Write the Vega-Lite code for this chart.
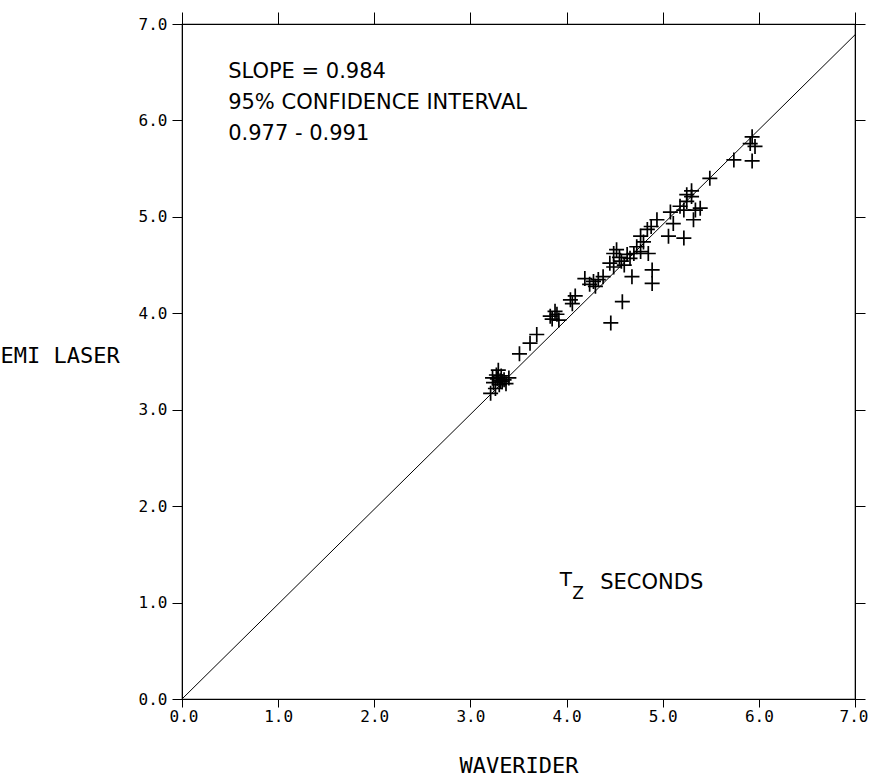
{
  "$schema": "https://vega.github.io/schema/vega-lite/v6.json",
  "width": 673,
  "height": 675,
  "autosize": {"type": "none"},
  "padding": {"left": 182, "top": 24, "right": 14, "bottom": 78},
  "background": "white",
  "config": {
    "view": {"stroke": "black", "strokeWidth": 1.2},
    "axis": {"domainColor": "black", "tickColor": "black", "labelColor": "black", "titleColor": "black", "grid": false}
  },
  "datasets": {
    "pts": [
      {"waverider": 3.21, "emi": 3.17}, {"waverider": 3.24, "emi": 3.28}, {"waverider": 3.26, "emi": 3.22},
      {"waverider": 3.28, "emi": 3.32}, {"waverider": 3.29, "emi": 3.41}, {"waverider": 3.30, "emi": 3.26},
      {"waverider": 3.32, "emi": 3.35}, {"waverider": 3.33, "emi": 3.29}, {"waverider": 3.35, "emi": 3.31},
      {"waverider": 3.37, "emi": 3.27}, {"waverider": 3.40, "emi": 3.33}, {"waverider": 3.27, "emi": 3.36},
      {"waverider": 3.31, "emi": 3.30}, {"waverider": 3.23, "emi": 3.33},
      {"waverider": 3.51, "emi": 3.58}, {"waverider": 3.62, "emi": 3.69}, {"waverider": 3.69, "emi": 3.78},
      {"waverider": 3.83, "emi": 3.97}, {"waverider": 3.88, "emi": 4.02}, {"waverider": 3.92, "emi": 3.93},
      {"waverider": 3.85, "emi": 3.94}, {"waverider": 3.90, "emi": 3.99},
      {"waverider": 4.04, "emi": 4.14}, {"waverider": 4.09, "emi": 4.18}, {"waverider": 4.06, "emi": 4.10},
      {"waverider": 4.19, "emi": 4.36}, {"waverider": 4.24, "emi": 4.30}, {"waverider": 4.28, "emi": 4.33},
      {"waverider": 4.33, "emi": 4.35}, {"waverider": 4.38, "emi": 4.38}, {"waverider": 4.30, "emi": 4.28},
      {"waverider": 4.58, "emi": 4.12}, {"waverider": 4.46, "emi": 3.90},
      {"waverider": 4.49, "emi": 4.62}, {"waverider": 4.45, "emi": 4.52}, {"waverider": 4.52, "emi": 4.66},
      {"waverider": 4.63, "emi": 4.61}, {"waverider": 4.70, "emi": 4.62}, {"waverider": 4.77, "emi": 4.64},
      {"waverider": 4.85, "emi": 4.62}, {"waverider": 4.49, "emi": 4.48}, {"waverider": 4.57, "emi": 4.54},
      {"waverider": 4.66, "emi": 4.57}, {"waverider": 4.73, "emi": 4.69}, {"waverider": 4.55, "emi": 4.58},
      {"waverider": 4.60, "emi": 4.50}, {"waverider": 4.68, "emi": 4.38}, {"waverider": 4.89, "emi": 4.45},
      {"waverider": 4.89, "emi": 4.31},
      {"waverider": 4.77, "emi": 4.80}, {"waverider": 4.84, "emi": 4.87}, {"waverider": 4.94, "emi": 4.97},
      {"waverider": 4.80, "emi": 4.74}, {"waverider": 4.88, "emi": 4.90},
      {"waverider": 5.06, "emi": 4.80}, {"waverider": 5.22, "emi": 4.78},
      {"waverider": 5.11, "emi": 4.93}, {"waverider": 5.08, "emi": 5.05}, {"waverider": 5.18, "emi": 5.11},
      {"waverider": 5.25, "emi": 5.16}, {"waverider": 5.30, "emi": 5.21}, {"waverider": 5.25, "emi": 5.23},
      {"waverider": 5.39, "emi": 5.09}, {"waverider": 5.32, "emi": 4.97}, {"waverider": 5.34, "emi": 5.07},
      {"waverider": 5.22, "emi": 5.07}, {"waverider": 5.30, "emi": 5.27},
      {"waverider": 5.49, "emi": 5.40}, {"waverider": 5.74, "emi": 5.59}, {"waverider": 5.93, "emi": 5.58},
      {"waverider": 5.91, "emi": 5.76}, {"waverider": 5.96, "emi": 5.73}, {"waverider": 5.93, "emi": 5.83}
    ],
    "fit": [{"waverider": 0, "emi": 0}, {"waverider": 7, "emi": 6.888}],
    "notes": [
      {"waverider": 0.48, "emi": 6.50, "label": "SLOPE = 0.984"},
      {"waverider": 0.48, "emi": 6.18, "label": "95% CONFIDENCE INTERVAL"},
      {"waverider": 0.48, "emi": 5.86, "label": "0.977 - 0.991"},
      {"waverider": 4.35, "emi": 1.20, "label": "SECONDS"}
    ],
    "tz": [{"waverider": 3.93, "emi": 1.23, "label": "T"}],
    "sub": [{"waverider": 4.06, "emi": 1.09, "label": "Z"}]
  },
  "resolve": {"axis": {"x": "independent", "y": "independent"}},
  "layer": [
    {
      "data": {"name": "fit"},
      "mark": {"type": "line", "color": "black", "strokeWidth": 1, "clip": true},
      "encoding": {
        "x": {"field": "waverider", "type": "quantitative",
          "scale": {"domain": [0, 7], "nice": false, "zero": false},
          "axis": {"orient": "bottom", "values": [0, 1, 2, 3, 4, 5, 6, 7], "format": ".1f",
            "tickSize": 8, "labelPadding": 1, "labelFont": "DejaVu Sans Mono", "labelFontSize": 16,
            "labelFlush": true, "labelFlushOffset": 13,
            "title": "WAVERIDER", "titleFont": "DejaVu Sans Mono", "titleFontSize": 22, "titleFontWeight": "normal",
            "titleBaseline": "middle", "titleY": 66}},
        "y": {"field": "emi", "type": "quantitative",
          "scale": {"domain": [0, 7], "nice": false, "zero": false},
          "axis": {"orient": "left", "values": [0, 1, 2, 3, 4, 5, 6, 7], "format": ".1f",
            "tickSize": 10, "labelPadding": 5, "labelFont": "DejaVu Sans Mono", "labelFontSize": 16,
            "title": "EMI LASER", "titleFont": "DejaVu Sans Mono", "titleFontSize": 22, "titleFontWeight": "normal",
            "titleAngle": 0, "titleAlign": "left", "titleBaseline": "middle", "titleX": -182, "titleY": 331, "labelFlush": false}}
      }
    },
    {
      "data": {"name": "pts"},
      "mark": {"type": "point", "shape": "M-1,0L1,0M0,-1L0,1", "filled": false, "stroke": "black", "strokeWidth": 1.7, "size": 225, "opacity": 1},
      "encoding": {
        "x": {"field": "waverider", "type": "quantitative",
          "axis": {"orient": "top", "values": [0, 1, 2, 3, 4, 5, 6, 7], "labels": false, "tickSize": 12, "title": null}},
        "y": {"field": "emi", "type": "quantitative",
          "axis": {"orient": "right", "values": [0, 1, 2, 3, 4, 5, 6, 7], "labels": false, "tickSize": 10, "title": null}}
      }
    },
    {
      "data": {"name": "notes"},
      "mark": {"type": "text", "align": "left", "baseline": "middle", "font": "DejaVu Sans", "fontSize": 21, "color": "black"},
      "encoding": {
        "x": {"field": "waverider", "type": "quantitative", "axis": null},
        "y": {"field": "emi", "type": "quantitative", "axis": null},
        "text": {"field": "label"}
      }
    },
    {
      "data": {"name": "tz"},
      "mark": {"type": "text", "align": "left", "baseline": "middle", "font": "DejaVu Sans", "fontSize": 20, "color": "black"},
      "encoding": {
        "x": {"field": "waverider", "type": "quantitative", "axis": null},
        "y": {"field": "emi", "type": "quantitative", "axis": null},
        "text": {"field": "label"}
      }
    },
    {
      "data": {"name": "sub"},
      "mark": {"type": "text", "align": "left", "baseline": "middle", "font": "DejaVu Sans", "fontSize": 17, "color": "black"},
      "encoding": {
        "x": {"field": "waverider", "type": "quantitative", "axis": null},
        "y": {"field": "emi", "type": "quantitative", "axis": null},
        "text": {"field": "label"}
      }
    }
  ]
}
